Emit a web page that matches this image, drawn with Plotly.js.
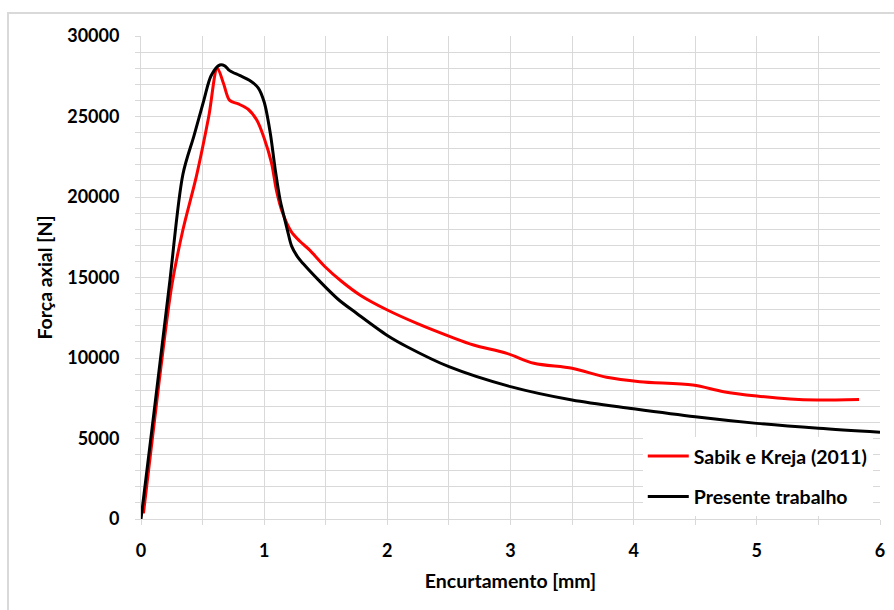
<!DOCTYPE html>
<html>
<head>
<meta charset="utf-8">
<script src="https://cdn.plot.ly/plotly-3.0.1.min.js"></script>
<style>
  html, body { margin: 0; padding: 0; background: #fff; }
  #wrap { position: relative; width: 894px; height: 610px; }
  #chart { width: 894px; height: 610px; }
  #frame { position: absolute; left: 7px; top: 12px; width: 900px; height: 620px;
           border: 2px solid #d9d9d9; pointer-events: none; box-sizing: border-box; }
</style>
</head>
<body>
<div id="wrap">
  <div id="chart"></div>
  <div id="frame"></div>
</div>
<script>
// Sabik e Kreja (2011)
const sabikX = [0.02, 0.15, 0.25, 0.34, 0.45, 0.55, 0.62, 0.67, 0.72, 0.79, 0.87, 0.94, 1.00, 1.06, 1.10, 1.15, 1.22, 1.29, 1.37, 1.49, 1.63, 1.78, 2.00, 2.24, 2.51, 2.70, 2.97, 3.19, 3.50, 3.78, 4.05, 4.48, 4.73, 5.00, 5.27, 5.49, 5.83];
const sabikY = [350, 8700, 14500, 17950, 21300, 25000, 28000, 27050, 26000, 25780, 25450, 24780, 23650, 22100, 20400, 19000, 17850, 17250, 16700, 15700, 14750, 13900, 12980, 12150, 11330, 10810, 10290, 9670, 9360, 8800, 8530, 8320, 7910, 7640, 7450, 7390, 7430];

// Presente trabalho
const presX = [0, 0.11, 0.23, 0.34, 0.43, 0.51, 0.57, 0.64, 0.68, 0.72, 0.80, 0.88, 0.95, 1.00, 1.05, 1.09, 1.13, 1.155, 1.19, 1.223, 1.27, 1.318, 1.44, 1.60, 1.75, 2.00, 2.16, 2.50, 3.00, 3.50, 4.00, 4.50, 5.00, 5.50, 6.00];
const presY = [0, 6900, 14500, 21400, 23800, 26000, 27550, 28200, 28150, 27850, 27550, 27250, 26800, 25900, 23950, 21700, 19800, 18990, 17900, 16950, 16300, 15850, 14850, 13650, 12780, 11400, 10700, 9460, 8220, 7390, 6850, 6350, 5940, 5630, 5390];

const seriesNames = ["Sabik e Kreja (2011)", "Presente trabalho"];
const xTitle = "Encurtamento [mm]";
const yTitle = "Força axial [N]";

const FONT = "Lato, 'Open Sans', sans-serif";
const gridC = "#d9d9d9";
const TXT = 19.5;

const traces = [
  { x: sabikX, y: sabikY, name: seriesNames[0], mode: "lines", legendgroup: "a",
    line: { color: "#ff0000", width: 3, shape: "spline", smoothing: 0.9 } },
  { x: presX, y: presY, name: seriesNames[1], mode: "lines", legendgroup: "b",
    line: { color: "#000000", width: 3, shape: "spline", smoothing: 0.9 } }
];

const layout = {
  width: 894, height: 610,
  margin: { l: 141, r: 14, t: 36, b: 91 },
  paper_bgcolor: "#ffffff", plot_bgcolor: "#ffffff",
  font: { family: FONT, size: 18, color: "#000", weight: "bold" },
  showlegend: true,
  legend: {
    x: 0.679, y: 0.17, xanchor: "left", yanchor: "top",
    bgcolor: "#ffffff", borderwidth: 0,
    font: { family: FONT, size: TXT, color: "#000", weight: "bold" },
    tracegroupgap: 12, itemwidth: 41
  },
  xaxis: {
    range: [0, 6], dtick: 1, tick0: 0, fixedrange: true,
    showgrid: true, gridcolor: gridC, gridwidth: 1,
    showline: true, linecolor: gridC, linewidth: 1,
    ticks: "outside", ticklen: 5, tickcolor: gridC,
    ticklabelstandoff: 10,
    zeroline: false,
    tickfont: { family: FONT, size: 18, color: "#000", weight: "bold" },
    minor: { dtick: 0.5, showgrid: true, gridcolor: gridC, ticks: "outside", ticklen: 5, tickcolor: gridC },
    title: { text: xTitle, standoff: 14, font: { family: FONT, size: TXT, color: "#000", weight: "bold" } }
  },
  yaxis: {
    range: [0, 30000], dtick: 5000, tick0: 0, fixedrange: true,
    showgrid: true, gridcolor: gridC, gridwidth: 1,
    showline: true, linecolor: gridC, linewidth: 1,
    ticks: "outside", ticklen: 5, tickcolor: gridC,
    ticklabelstandoff: 12,
    zeroline: false,
    tickformat: "d",
    tickfont: { family: FONT, size: 18, color: "#000", weight: "bold" },
    minor: { dtick: 1000, showgrid: true, gridcolor: gridC, ticks: "outside", ticklen: 5, tickcolor: gridC },
    title: { text: yTitle, standoff: 9, font: { family: FONT, size: TXT, color: "#000", weight: "bold" } }
  }
};

Plotly.newPlot("chart", traces, layout, { displayModeBar: false, staticPlot: true });
</script>
</body>
</html>
